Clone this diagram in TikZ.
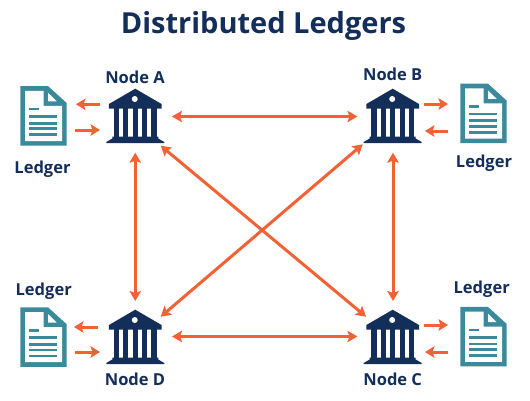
\documentclass[tikz,border=0pt]{standalone}
\usepackage{fontspec}
\setmainfont{Open Sans}
\usetikzlibrary{arrows.meta}
\definecolor{navy}{HTML}{142E5A}
\definecolor{teal2}{HTML}{3A8A9B}
\definecolor{orng}{HTML}{F26235}
\tikzset{
  x=1pt,y=-1pt,
  bankbox/.style={minimum width=57.5pt,minimum height=54pt,inner sep=0pt,outer sep=0pt},
  docbox/.style={minimum width=46.4pt,minimum height=59.5pt,inner sep=0pt,outer sep=0pt},
  label/.style={text=navy,anchor=base,inner sep=0pt,font=\fontsize{16.5}{16.5}\selectfont\bfseries},
  title/.style={text=navy,anchor=base,inner sep=0pt,font=\fontsize{29}{29}\selectfont\bfseries},
  link/.style={draw=orng,line width=3pt,{Stealth[length=10pt,width=11.5pt,inset=2pt]}-{Stealth[length=10pt,width=11.5pt,inset=2pt]}},
  oneway/.style={draw=orng,line width=3pt,-{Stealth[length=9.5pt,width=11.5pt,inset=2pt]}},
  bank/.pic={
    \fill[navy] (0,-27.3)--(26.3,-12)--(26.3,-7.5)--(-26.3,-7.5)--(-26.3,-12)--cycle;
    \fill[white] (-0.5,-17) circle (3);
    \foreach \a/\b in {-21.5/-15.8,-11.8/-6.8,-2.3/2.7,6.8/11.8,15.8/21.5}{\fill[navy] (\a,-8) rectangle (\b,22);}
    \fill[navy] (-23,20.7)--(23,20.7)--(23,22.5)--(29,26)--(29,27)--(-29,27)--(-29,26)--(-23,22.5)--cycle;
  },
  ledger/.pic={
    \fill[teal2] (-23.2,-29.75)--(4.5,-29.75)--(23.2,-12.75)--(23.2,29.75)--(-23.2,29.75)--cycle;
    \fill[white] (-18.5,-25)--(0.2,-25)--(0.2,-10)--(18.6,-10)--(18.6,25.2)--(-18.5,25.2)--cycle;
    \fill[white] (4.5,-23)--(13.2,-14.5)--(4.5,-14.5)--cycle;
    \fill[teal2] (-14.2,-8.1) rectangle (-4.5,-5.4);
    \foreach \y in {-0.8,5.9,11.5,17.5}{\fill[teal2] (-14.2,\y) rectangle (13.8,\y+2.8);}
  }
}
\begin{document}
\begin{tikzpicture}
\useasboundingbox[fill=white] (0,0) rectangle (530,400);
\node[title] (t) at (263.5,33) {Distributed Ledgers};
% banks
\node[bankbox] (A) at (135.25,116) {};
\node[bankbox] (B) at (392.7,116) {};
\node[bankbox] (C) at (392.7,337) {};
\node[bankbox] (D) at (135.25,337) {};
\pic at (A) {bank};
\pic at (B) {bank};
\pic at (C) {bank};
\pic at (D) {bank};
% ledgers
\node[docbox] (LA) at (43.5,115.8) {};
\node[docbox] (LB) at (483.5,113.4) {};
\node[docbox] (LC) at (483.5,336.7) {};
\node[docbox] (LD) at (43.5,337) {};
\pic at (LA) {ledger};
\pic at (LB) {ledger};
\pic at (LC) {ledger};
\pic at (LD) {ledger};
% labels
\node[label] (nA) at (135,83) {Node A};
\node[label] (nB) at (392.7,80.7) {Node B};
\node[label] (nC) at (392.7,385.7) {Node C};
\node[label] (nD) at (135,385.7) {Node D};
\node[label] (lA) at (42.5,173.3) {Ledger};
\node[label] (lB) at (484,167.3) {Ledger};
\node[label] (lC) at (481.7,293.3) {Ledger};
\node[label] (lD) at (43.7,295) {Ledger};
% main links
\draw[link] ([shift={(8,0.5)}]A.east) -- ([shift={(-6.5,0.5)}]B.west);
\draw[link] ([shift={(8,-0.5)}]D.east) -- ([shift={(-6.5,-0.5)}]C.west);
\draw[link] ([shift={(0,9.7)}]A.south) -- ([shift={(0,-9)}]D.north);
\draw[link] ([shift={(0.3,9.7)}]B.south) -- ([shift={(0.3,-9)}]C.north);
\draw[link] ([shift={(-3.3,2.7)}]A.south east) -- ([shift={(2.1,6.7)}]C.north west);
\draw[link] ([shift={(-1.2,1.3)}]B.south west) -- ([shift={(-3.3,6.7)}]D.north east);
% ledger arrows
\draw[oneway] ([shift={(-6.5,-11.7)}]A.west) -- ([shift={(9.3,-11.5)}]LA.east);
\draw[oneway] ([shift={(8.3,14.2)}]LA.east) -- ([shift={(-6.5,14)}]A.west);
\draw[oneway] ([shift={(2.5,-12)}]B.east) -- ([shift={(-12.3,-9.4)}]LB.west);
\draw[oneway] ([shift={(-12.3,17.6)}]LB.west) -- ([shift={(3.5,15)}]B.east);
\draw[oneway] ([shift={(2.5,-12)}]C.east) -- ([shift={(-12.3,-11.7)}]LC.west);
\draw[oneway] ([shift={(-12.3,15.3)}]LC.west) -- ([shift={(3.5,15)}]C.east);
\draw[oneway] ([shift={(-8.5,-10)}]D.west) -- ([shift={(7.3,-10)}]LD.east);
\draw[oneway] ([shift={(8.3,15)}]LD.east) -- ([shift={(-6.5,15)}]D.west);
\end{tikzpicture}
\end{document}
